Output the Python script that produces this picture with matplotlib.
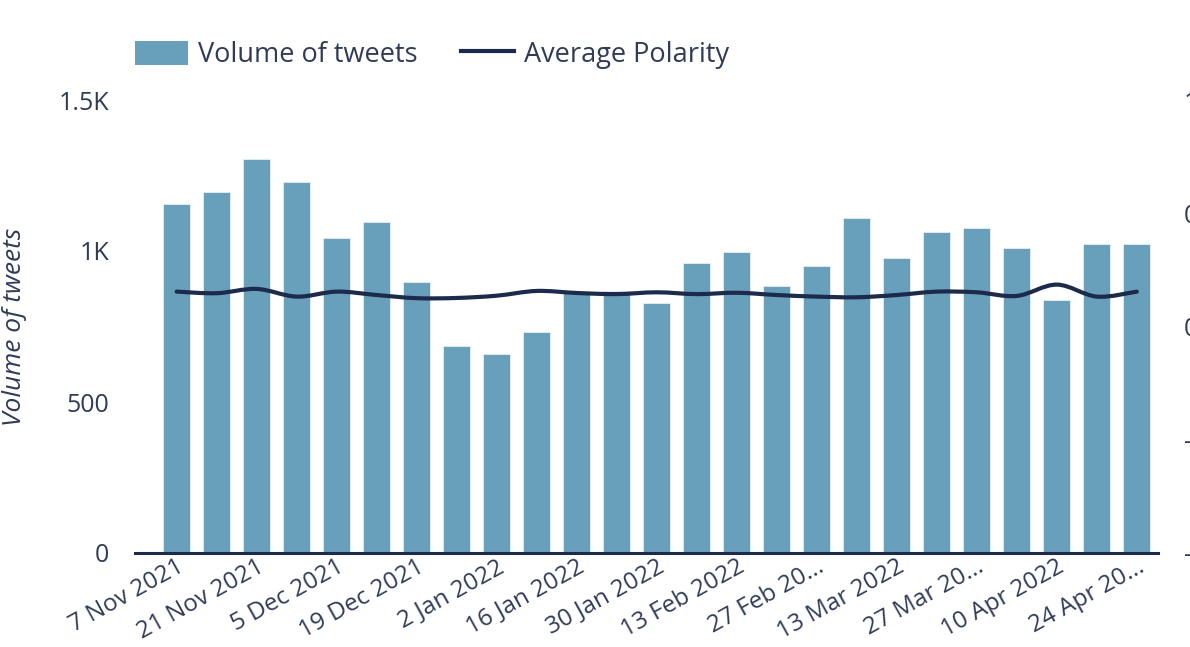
import numpy as np
import matplotlib
matplotlib.use("Agg")
import matplotlib.pyplot as plt
from matplotlib.path import Path
from matplotlib.patches import PathPatch, Patch
from matplotlib.lines import Line2D

plt.rcParams['font.family'] = ['Open Sans', 'DejaVu Sans']

# weekly volume of tweets, 7 Nov 2021 .. 24 Apr 2022
tweets = [1156, 1195, 1304, 1228, 1044, 1097, 898, 685, 658, 733,
          862, 866, 827, 959, 997, 884, 950, 1109, 977, 1063,
          1075, 1010, 838, 1024, 1024]

# average polarity per week
polarity = [0.154, 0.147, 0.166, 0.132, 0.154, 0.139, 0.125, 0.126, 0.136, 0.157,
            0.148, 0.143, 0.151, 0.143, 0.149, 0.139, 0.132, 0.129, 0.139, 0.154,
            0.151, 0.135, 0.185, 0.132, 0.154]

# every second week is labelled
week_labels = ["7 Nov 2021", "21 Nov 2021", "5 Dec 2021", "19 Dec 2021", "2 Jan 2022",
               "16 Jan 2022", "30 Jan 2022", "13 Feb 2022", "27 Feb 20...", "13 Mar 2022",
               "27 Mar 20...", "10 Apr 2022", "24 Apr 20..."]

left_ticks = [0, 500, 1000, 1500]
left_tick_labels = ["0", "500", "1K", "1.5K"]
right_ticks = [-1, -0.5, 0, 0.5, 1]
right_tick_labels = ["-1", "-0.5", "0", "0.5", "1"]

bar_color = "#689fbb"
navy = "#1c2b4b"
text_color = "#2f3b57"
fs = 18

W, H = 1190, 647
fig = plt.figure(figsize=(W / 100, H / 100), dpi=100)
ax = fig.add_axes([135 / W, (H - 553) / H, (1158 - 135) / W, 453 / H])

x = np.arange(len(tweets))
ax.bar(x, tweets, width=0.68, color=bar_color, edgecolor="#e6f0f5", linewidth=0.6, zorder=2)
ax.set_xlim(-1.04, 24.53)
ax.set_ylim(0, 1500)

ax.set_yticks(left_ticks)
ax.set_yticklabels(left_tick_labels)
ax.set_xticks(x[::2])
ax.set_xticklabels(week_labels, rotation=29, ha="right", va="top", rotation_mode="anchor")
ax.tick_params(axis="y", length=0, pad=18.5, labelsize=fs, labelcolor=text_color)
ax.tick_params(axis="x", length=0, pad=1.5, labelsize=17.5, labelcolor=text_color)

for s in ["top", "right", "left"]:
    ax.spines[s].set_visible(False)
ax.spines["bottom"].set_color(navy)
ax.spines["bottom"].set_linewidth(2.2)
ax.spines["bottom"].set_zorder(4)

ax.set_ylabel("Volume of tweets", fontsize=19, style="italic", color=text_color)
ax.yaxis.set_label_coords(-0.106, 0.5)

# polarity on the right axis, drawn as a smooth curve
ax2 = ax.twinx()
ax2.set_ylim(-1, 1)
ax2.set_yticks(right_ticks)
ax2.set_yticklabels(right_tick_labels)
ax2.tick_params(axis="y", length=0, pad=18.5, labelsize=fs, labelcolor=text_color)
for s in ["top", "right", "left", "bottom"]:
    ax2.spines[s].set_visible(False)

px = x.astype(float)
py = np.array(polarity)
verts = [(px[0], py[0])]
codes = [Path.MOVETO]
n = len(px)
for i in range(n - 1):
    p0 = max(i - 1, 0)
    p3 = min(i + 2, n - 1)
    c1 = (px[i] + (px[i + 1] - px[p0]) / 6, py[i] + (py[i + 1] - py[p0]) / 6)
    c2 = (px[i + 1] - (px[p3] - px[i]) / 6, py[i + 1] - (py[p3] - py[i]) / 6)
    verts += [c1, c2, (px[i + 1], py[i + 1])]
    codes += [Path.CURVE4] * 3
ax2.add_patch(PathPatch(Path(verts, codes), fill=False, edgecolor=navy,
                        linewidth=3, capstyle="round", zorder=3))

handles = [Patch(facecolor=bar_color, edgecolor="none"),
           Line2D([0], [0], color=navy, linewidth=3)]
fig.legend(handles, ["Volume of tweets", "Average Polarity"], loc="center left",
           bbox_to_anchor=(135 / W, (H - 55) / H), ncol=2, frameon=False,
           fontsize=19.5, labelcolor=text_color, handlelength=1.95, handleheight=1.0,
           handletextpad=0.37, columnspacing=1.6, borderpad=0, borderaxespad=0)

fig.savefig("out.png", dpi=100)
